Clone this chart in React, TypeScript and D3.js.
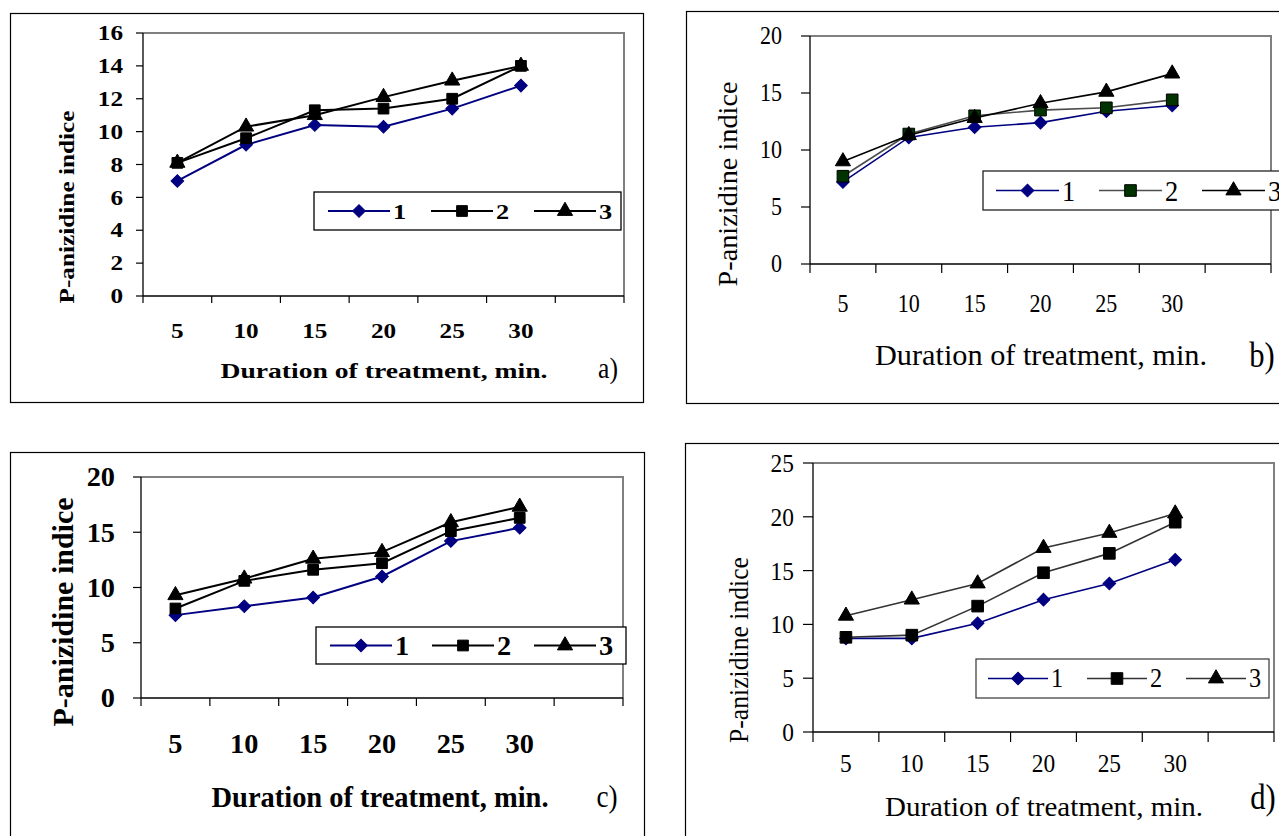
import React from "react";
import * as d3 from "d3";

// x categories (duration of treatment, min) and legend names
const durations = ["5", "10", "15", "20", "25", "30"];
const seriesNames = ["1", "2", "3"];

// P-anizidine indice
const a1 = [7.0, 9.2, 10.4, 10.3, 11.4, 12.8];
const a2 = [8.1, 9.6, 11.3, 11.4, 12.0, 14.0];
const a3 = [8.1, 10.3, 11.0, 12.1, 13.1, 14.0];

const b1 = [7.2, 11.1, 12.0, 12.4, 13.4, 13.9];
const b2 = [7.7, 11.4, 13.0, 13.5, 13.7, 14.4];
const b3 = [9.0, 11.3, 12.8, 14.1, 15.1, 16.7];

const c1 = [7.5, 8.3, 9.1, 11.0, 14.2, 15.4];
const c2 = [8.1, 10.6, 11.6, 12.2, 15.1, 16.3];
const c3 = [9.3, 10.8, 12.6, 13.2, 15.9, 17.3];

const d1 = [8.7, 8.7, 10.1, 12.3, 13.8, 16.0];
const d2 = [8.8, 9.0, 11.7, 14.8, 16.6, 19.5];
const d3v = [10.8, 12.3, 13.8, 17.1, 18.5, 20.3];

const yTicksA = [0, 2, 4, 6, 8, 10, 12, 14, 16];
const yTicks20 = [0, 5, 10, 15, 20];
const yTicks25 = [0, 5, 10, 15, 20, 25];

const xTitle = "Duration of treatment, min.";
const yTitle = "P-anizidine indice";

const NAVY = "#000080";
const FONT = "'Liberation Serif', 'Times New Roman', serif";

const diamond = d3.symbol(d3.symbolSquare, 80)();
const square = d3.symbol(d3.symbolSquare, 115)();
const squareBig = d3.symbol(d3.symbolSquare, 135)();
const triangle = d3.symbol(d3.symbolTriangle, 100)();

type Style = { line: string; fill: string; stroke: string; shape: string; rot: number };

const styleA: Style[] = [
  { line: NAVY, fill: NAVY, stroke: NAVY, shape: diamond, rot: 45 },
  { line: "#000", fill: "#000", stroke: "#000", shape: square, rot: 0 },
  { line: "#000", fill: "#000", stroke: "#000", shape: triangle, rot: 0 },
];
const styleB: Style[] = [
  { line: NAVY, fill: NAVY, stroke: NAVY, shape: diamond, rot: 45 },
  { line: "#4d4d4d", fill: "#003300", stroke: "#000", shape: squareBig, rot: 0 },
  { line: "#000", fill: "#000", stroke: "#000", shape: triangle, rot: 0 },
];
const styleD: Style[] = [
  { line: NAVY, fill: NAVY, stroke: NAVY, shape: diamond, rot: 45 },
  { line: "#333", fill: "#000", stroke: "#000", shape: squareBig, rot: 0 },
  { line: "#333", fill: "#000", stroke: "#000", shape: triangle, rot: 0 },
];

const panels = [
  {
    key: "a", series: [a1, a2, a3], styles: styleA, ticks: yTicksA, bold: true, sx: 1.2,
    frame: { x: 10, y: 13, w: 633, h: 389 },
    plot: { l: 143, t: 33, r: 624, b: 296 },
    tickSize: 21, tickGap: 20, tickLen: 7, xLabY: 331, lw: 2,
    xt: { x: 384, y: 370, len: 327, size: 22 },
    yt: { x: 66, y: 207, len: 193, size: 22 },
    tag: { text: "a)", x: 608, y: 368, size: 30 },
    leg: { x: 314, y: 192, w: 307, h: 38, x0: 328, step: 103, len: 62, size: 22, border: "#000" },
  },
  {
    key: "b", series: [b1, b2, b3], styles: styleB, ticks: yTicks20, bold: false, sx: 0.88,
    frame: { x: 686, y: 11, w: 640, h: 392 },
    plot: { l: 810, t: 36, r: 1271, b: 264 },
    tickSize: 25, tickGap: 28, tickLen: 9, xLabY: 304, lw: 1.6,
    xt: { x: 1041, y: 355, len: 332, size: 29 },
    yt: { x: 727, y: 184, len: 205, size: 28 },
    tag: { text: "b)", x: 1262, y: 355, size: 36 },
    leg: { x: 983, y: 171, w: 330, h: 39, x0: 996, step: 103, len: 63, size: 30, border: "#222" },
  },
  {
    key: "c", series: [c1, c2, c3], styles: styleA, ticks: yTicks20, bold: true, sx: 1.05,
    frame: { x: 10, y: 452, w: 634, h: 420 },
    plot: { l: 141, t: 477, r: 623, b: 698 },
    tickSize: 27, tickGap: 26, tickLen: 8, xLabY: 744, lw: 2,
    xt: { x: 380, y: 797, len: 337, size: 29 },
    yt: { x: 62, y: 612, len: 229, size: 30 },
    tag: { text: "c)", x: 607, y: 796, size: 32 },
    leg: { x: 316, y: 627, w: 310, h: 37, x0: 330, step: 102, len: 62, size: 27, border: "#000" },
  },
  {
    key: "d", series: [d1, d2, d3v], styles: styleD, ticks: yTicks25, bold: false, sx: 0.9,
    frame: { x: 685, y: 443, w: 640, h: 420 },
    plot: { l: 813, t: 463, r: 1274, b: 732 },
    tickSize: 26, tickGap: 19, tickLen: 10, xLabY: 763, lw: 1.6,
    xt: { x: 1044, y: 807, len: 318, size: 27 },
    yt: { x: 739, y: 650, len: 186, size: 27 },
    tag: { text: "d)", x: 1263, y: 797, size: 36 },
    leg: { x: 976, y: 659, w: 293, h: 39, x0: 988, step: 99, len: 60, size: 27, border: "#444" },
  },
];

const Txt = ({ x, y, size, bold, sx = 1, anchor = "middle", rotate = 0, len, children }: any) => (
  <text
    transform={`translate(${x},${y}) rotate(${rotate}) scale(${sx},1)`}
    textAnchor={anchor}
    dominantBaseline="central"
    fontFamily={FONT}
    fontSize={size}
    fontWeight={bold ? "bold" : "normal"}
    textLength={len}
    lengthAdjust={len ? "spacingAndGlyphs" : undefined}
    fill="#000"
  >
    {children}
  </text>
);

const Panel = ({ cfg }: any) => {
  const { plot, styles } = cfg;
  const x = d3.scaleBand().domain([...durations, ""]).range([plot.l, plot.r]);
  const y = d3.scaleLinear().domain([0, d3.max(cfg.ticks) as number]).range([plot.b, plot.t]);
  const cx = (i: number) => (x(durations[i]) as number) + x.bandwidth() / 2;
  const line = d3.line<number>().x((_, i) => cx(i)).y(d => y(d));
  const bounds = [...x.domain().map(v => x(v) as number), plot.r];

  return (
    <g>
      <rect x={cfg.frame.x + 0.5} y={cfg.frame.y + 0.5} width={cfg.frame.w} height={cfg.frame.h} fill="#fff" stroke="#000" strokeWidth={1.2} />
      {/* plot border: grey top/right, black axes */}
      <path d={`M${plot.l},${plot.t}H${plot.r}V${plot.b}`} fill="none" stroke="#808080" strokeWidth={2} />
      <line x1={plot.l} x2={plot.l} y1={plot.t} y2={plot.b} stroke="#000" strokeWidth={1.3} />
      <line x1={plot.l} x2={plot.r} y1={plot.b} y2={plot.b} stroke="#000" strokeWidth={1.3} />
      {cfg.ticks.map((t: number) => (
        <g key={t}>
          <line x1={plot.l - cfg.tickLen} x2={plot.l} y1={y(t)} y2={y(t)} stroke="#000" strokeWidth={1.2} />
          <Txt x={plot.l - cfg.tickGap} y={y(t)} size={cfg.tickSize} bold={cfg.bold} sx={cfg.sx} anchor="end">
            {t}
          </Txt>
        </g>
      ))}
      {bounds.map((b, i) => (
        <line key={i} x1={b} x2={b} y1={plot.b} y2={plot.b + cfg.tickLen} stroke="#000" strokeWidth={1.2} />
      ))}
      {durations.map((d, i) => (
        <Txt key={d} x={cx(i)} y={cfg.xLabY} size={cfg.tickSize} bold={cfg.bold} sx={cfg.sx}>
          {d}
        </Txt>
      ))}
      <Txt x={cfg.xt.x} y={cfg.xt.y} size={cfg.xt.size} bold={cfg.bold} len={cfg.xt.len}>
        {xTitle}
      </Txt>
      <Txt x={cfg.yt.x} y={cfg.yt.y} size={cfg.yt.size} bold={cfg.bold} len={cfg.yt.len} rotate={-90}>
        {yTitle}
      </Txt>
      <Txt x={cfg.tag.x} y={cfg.tag.y} size={cfg.tag.size} sx={0.85}>
        {cfg.tag.text}
      </Txt>

      {cfg.series.map((s: number[], k: number) => (
        <g key={k}>
          <path d={line(s) as string} fill="none" stroke={styles[k].line} strokeWidth={cfg.lw} />
          {s.map((v, i) => (
            <path
              key={i}
              d={styles[k].shape}
              transform={`translate(${cx(i)},${y(v)}) rotate(${styles[k].rot})`}
              fill={styles[k].fill}
              stroke={styles[k].stroke}
              strokeWidth={1}
            />
          ))}
        </g>
      ))}

      <rect x={cfg.leg.x} y={cfg.leg.y} width={cfg.leg.w} height={cfg.leg.h} fill="#fff" stroke={cfg.leg.border} strokeWidth={1.3} />
      {seriesNames.map((n, k) => {
        const lx = cfg.leg.x0 + k * cfg.leg.step;
        const ly = cfg.leg.y + cfg.leg.h / 2;
        return (
          <g key={n}>
            <line x1={lx} x2={lx + cfg.leg.len} y1={ly} y2={ly} stroke={styles[k].line} strokeWidth={cfg.lw} />
            <path
              d={styles[k].shape}
              transform={`translate(${lx + cfg.leg.len / 2},${ly}) rotate(${styles[k].rot})`}
              fill={styles[k].fill}
              stroke={styles[k].stroke}
              strokeWidth={1}
            />
            <Txt x={lx + cfg.leg.len + 3} y={ly} size={cfg.leg.size} bold={cfg.bold} sx={cfg.sx} anchor="start">
              {n}
            </Txt>
          </g>
        );
      })}
    </g>
  );
};

export default function App() {
  return (
    <svg width={1279} height={836} style={{ position: "absolute", left: 0, top: 0, background: "#fff" }}>
      {panels.map(p => (
        <Panel key={p.key} cfg={p} />
      ))}
    </svg>
  );
}
